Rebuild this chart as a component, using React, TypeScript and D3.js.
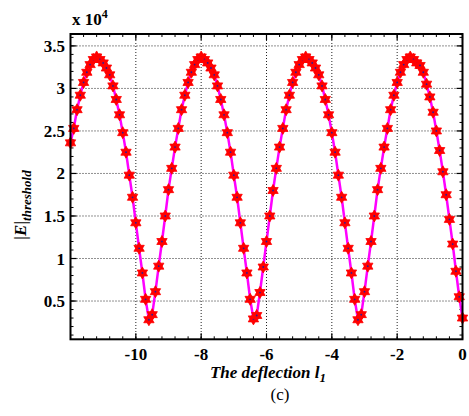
import React from 'react';
import * as d3 from 'd3';

const xStart = -12;
const xStep = 0.1;
const yValues: number[] = [
  2.36,
  2.53, 2.75, 2.92, 3.07, 3.19, 3.28, 3.34, 3.37, 3.34, 3.30, 3.24, 3.16, 3.03, 2.87, 2.69, 2.48, 2.25, 1.98, 1.72, 1.42, 1.12, 0.83, 0.52,
  0.28,
  0.34, 0.61, 0.91, 1.20, 1.50, 1.81, 2.06, 2.31, 2.53, 2.75, 2.92, 3.07, 3.19, 3.28, 3.34, 3.37, 3.34, 3.30, 3.24, 3.16, 3.03, 2.87, 2.69, 2.48, 2.25, 1.98, 1.72, 1.42, 1.12, 0.83, 0.52,
  0.29,
  0.33, 0.60, 0.90, 1.20, 1.50, 1.80, 2.06, 2.31, 2.53, 2.75, 2.92, 3.07, 3.19, 3.28, 3.34, 3.37, 3.34, 3.30, 3.24, 3.16, 3.03, 2.87, 2.69, 2.48, 2.25, 1.98, 1.72, 1.42, 1.12, 0.83, 0.52,
  0.28,
  0.34, 0.61, 0.91, 1.20, 1.50, 1.81, 2.06, 2.31, 2.53, 2.75, 2.92, 3.07, 3.19, 3.28, 3.34, 3.37, 3.34, 3.30,
  3.27, 3.19, 3.05, 2.90, 2.72, 2.50, 2.27, 2.02, 1.75, 1.46, 1.17, 0.85, 0.55, 0.30,
];
const xValues: number[] = yValues.map((_, i) => +(xStart + xStep * i).toFixed(1));

const xTicks = [-10, -8, -6, -4, -2, 0];
const yTicks = [0.5, 1, 1.5, 2, 2.5, 3, 3.5];
const xLabel = 'The deflection l';
const xLabelSub = '1';
const yLabel = '|E|';
const yLabelSub = 'threshold';
const caption = '(c)';

const W = 469, H = 416;
const L = 70.5, R = 462.5, T = 34, B = 339.3;
const FONT = '"Liberation Serif", "Times New Roman", serif';

function hexagram(r: number) {
  const pts = (offset: number) =>
    [0, 1, 2].map(k => {
      const a = ((offset + k * 120) * Math.PI) / 180;
      return [r * Math.cos(a), r * Math.sin(a)];
    });
  const tri = (p: number[][]) => `M${p[0][0]},${p[0][1]}L${p[1][0]},${p[1][1]}L${p[2][0]},${p[2][1]}Z`;
  return tri(pts(-90)) + tri(pts(90));
}

export default function App() {
  const x = d3.scaleLinear().domain([-12, 0]).range([L, R]);
  const y = d3.scaleLinear().domain([0.05, 3.64]).range([B, T]);
  const data = xValues.map((xv, i) => ({ x: xv, y: yValues[i] }));
  const line = d3.line<{ x: number; y: number }>().x(d => x(d.x)).y(d => y(d.y));
  const xMinor = d3.range(-12, 0.001, 0.4).map(v => +v.toFixed(1));
  const yMinor = d3.range(0.1, 3.64, 0.1).map(v => +v.toFixed(1));
  const star = hexagram(6);

  return (
    <svg width={W} height={H} style={{ position: 'absolute', left: 0, top: 0, background: '#fff' }}>
      <rect x={0} y={0} width={W} height={H} fill="#fff" />
      {xTicks.filter(t => t > -12 && t < 0).map(t => (
        <line key={'gx' + t} x1={x(t)} x2={x(t)} y1={T} y2={B} stroke="#222" strokeWidth={1} strokeDasharray="1,2" />
      ))}
      {yTicks.map(t => (
        <line key={'gy' + t} x1={L} x2={R} y1={y(t)} y2={y(t)} stroke="#222" strokeWidth={1} strokeDasharray="1,2" />
      ))}
      {xMinor.map(t => (
        <g key={'mx' + t}>
          <line x1={x(t)} x2={x(t)} y1={B} y2={B - 3} stroke="#000" strokeWidth={1} />
          <line x1={x(t)} x2={x(t)} y1={T} y2={T + 3} stroke="#000" strokeWidth={1} />
        </g>
      ))}
      {yMinor.map(t => (
        <g key={'my' + t}>
          <line x1={L} x2={L + 3} y1={y(t)} y2={y(t)} stroke="#000" strokeWidth={1} />
          <line x1={R} x2={R - 3} y1={y(t)} y2={y(t)} stroke="#000" strokeWidth={1} />
        </g>
      ))}
      {xTicks.map(t => (
        <g key={'tx' + t}>
          <line x1={x(t)} x2={x(t)} y1={B} y2={B - 6} stroke="#000" strokeWidth={1.2} />
          <line x1={x(t)} x2={x(t)} y1={T} y2={T + 6} stroke="#000" strokeWidth={1.2} />
          <text x={x(t)} y={360} textAnchor="middle" fontFamily={FONT} fontWeight="bold" fontSize={17} fill="#000">
            {t}
          </text>
        </g>
      ))}
      {yTicks.map(t => (
        <g key={'ty' + t}>
          <line x1={L} x2={L + 6} y1={y(t)} y2={y(t)} stroke="#000" strokeWidth={1.2} />
          <line x1={R} x2={R - 6} y1={y(t)} y2={y(t)} stroke="#000" strokeWidth={1.2} />
          <text x={65} y={y(t) + 6} textAnchor="end" fontFamily={FONT} fontWeight="bold" fontSize={17} fill="#000">
            {t}
          </text>
        </g>
      ))}
      <path d={line(data) || ''} fill="none" stroke="#ff00ff" strokeWidth={2.5} />
      {data.map((d, i) => (
        <g key={'m' + i} transform={`translate(${x(d.x)},${y(d.y)})`}>
          <path d={star} fill="#ff0000" stroke="#ff0000" strokeWidth={0.8} />
          <circle r={0.9} fill="#2a1a9a" />
        </g>
      ))}
      <rect x={L} y={T} width={R - L} height={B - T} fill="none" stroke="#000" strokeWidth={2} />
      <text x={72} y={25} fontFamily={FONT} fontWeight="bold" fontSize={17} fill="#000">
        x 10<tspan dy={-7} fontSize={12}>4</tspan>
      </text>
      <text x={268} y={378} textAnchor="middle" fontFamily={FONT} fontWeight="bold" fontStyle="italic" fontSize={17} fill="#000">
        {xLabel}
        <tspan dy={4} fontSize={13}>{xLabelSub}</tspan>
      </text>
      <text x={280} y={400} textAnchor="middle" fontFamily={FONT} fontSize={17} fill="#000">
        {caption}
      </text>
      <text transform="translate(26,205) rotate(-90)" textAnchor="middle" fontFamily={FONT} fontWeight="bold" fontStyle="italic" fontSize={17} fill="#000">
        {yLabel}
        <tspan dy={5} fontSize={13}>{yLabelSub}</tspan>
      </text>
    </svg>
  );
}
